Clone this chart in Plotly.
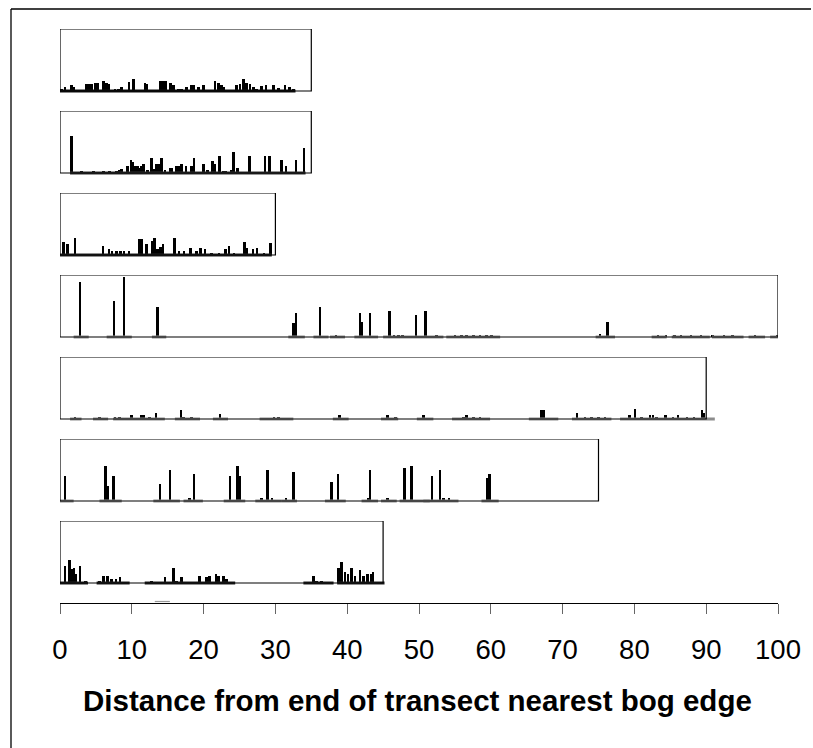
import plotly.graph_objects as go

# ---------------- data ----------------
transect_lengths = [35, 35, 30, 100, 90, 75, 45]

t1_pos = [0.23, 0.70, 1.63, 1.86, 3.62, 3.95, 4.41, 4.97, 5.25, 6.04, 6.50, 6.73, 7.66, 8.13, 8.59, 9.61, 10.21,
          11.84, 12.07, 13.93, 14.30, 14.62, 14.76, 15.41, 15.79, 16.48, 16.95, 17.64, 18.34, 18.66, 19.27, 19.96,
          21.59, 22.05, 22.52, 22.75, 24.61, 25.07, 25.53, 26.00, 26.46, 26.93, 27.39, 28.09, 28.69, 29.71, 30.41,
          31.34, 31.94, 32.50]
t1_val = [0.04, 0.065, 0.09, 0.065, 0.12, 0.12, 0.11, 0.13, 0.13, 0.16, 0.13, 0.12, 0.04, 0.04, 0.065, 0.14, 0.20,
          0.13, 0.12, 0.16, 0.16, 0.16, 0.16, 0.13, 0.09, 0.04, 0.04, 0.065, 0.09, 0.09, 0.065, 0.09,
          0.16, 0.13, 0.09, 0.065, 0.09, 0.12, 0.20, 0.13, 0.12, 0.065, 0.04, 0.075, 0.09, 0.09, 0.055,
          0.09, 0.065, 0.025]

t2_pos = [1.63, 3.02, 4.64, 6.04, 6.87, 7.89, 8.27, 8.59, 9.38, 9.89, 10.12, 10.45, 10.77, 11.05, 11.28, 11.61,
          12.21, 12.77, 13.09, 13.46, 13.79, 14.16, 14.62, 15.32, 15.55, 16.16, 16.48, 16.95, 17.55, 18.34, 18.66,
          19.96, 20.57, 21.26, 21.59, 22.19, 22.75, 23.12, 23.91, 24.14, 24.70, 26.37, 28.55, 29.15, 30.87, 31.48,
          32.87, 33.98]
t2_val = [0.59, 0.04, 0.04, 0.04, 0.04, 0.04, 0.05, 0.07, 0.11, 0.21, 0.17, 0.11, 0.11, 0.08, 0.11, 0.14,
          0.05, 0.24, 0.07, 0.14, 0.15, 0.24, 0.05, 0.08, 0.08, 0.11, 0.11, 0.14, 0.11, 0.11, 0.24,
          0.14, 0.05, 0.19, 0.14, 0.27, 0.04, 0.04, 0.05, 0.34, 0.08, 0.27, 0.27, 0.27, 0.21, 0.11,
          0.21, 0.40]

t3_pos = [0.46, 1.02, 2.09, 5.97, 6.81, 7.27, 7.87, 8.43, 8.89, 9.59, 10.98, 11.31, 12.05, 12.84, 13.16, 13.54,
          14.00, 14.37, 15.95, 16.55, 17.25, 18.18, 19.02, 19.57, 20.17, 21.10, 22.12, 23.05, 23.52, 24.21,
          25.70, 26.07, 26.86, 27.46, 28.39, 29.32]
t3_val = [0.21, 0.17, 0.28, 0.15, 0.10, 0.06, 0.06, 0.06, 0.06, 0.06, 0.26, 0.26, 0.18, 0.23, 0.27, 0.10,
          0.13, 0.17, 0.28, 0.06, 0.06, 0.12, 0.06, 0.12, 0.09, 0.04, 0.04, 0.09, 0.15, 0.04,
          0.21, 0.12, 0.10, 0.12, 0.04, 0.20]

t4_pos = [2.79, 7.52, 8.91, 13.56, 32.50, 32.87, 36.21, 38.44, 41.78, 42.06, 43.18, 45.87, 46.52, 47.13, 47.73,
          49.59, 50.90, 52.46, 55.01, 55.90, 56.60, 57.60, 58.50, 59.40, 60.10, 75.20, 76.28, 83.30, 84.40, 85.60,
          86.50, 87.90, 89.30, 90.90, 92.50, 93.70, 96.80, 99.90]
t4_val = [0.88, 0.58, 0.97, 0.49, 0.23, 0.39, 0.49, 0.03, 0.39, 0.25, 0.39, 0.42, 0.04, 0.04, 0.04,
          0.36, 0.42, 0.04, 0.04, 0.04, 0.04, 0.04, 0.04, 0.04, 0.04, 0.05, 0.25, 0.03, 0.03, 0.03,
          0.04, 0.04, 0.04, 0.04, 0.04, 0.03, 0.04, 0.03]

t5_pos = [2.09, 5.48, 7.66, 8.27, 9.98, 11.37, 11.70, 12.44, 13.37, 16.85, 17.18, 18.34, 22.28, 29.80, 30.40,
          38.90, 45.60, 46.70, 50.60, 56.20, 56.60, 57.60, 58.50, 67.10, 67.40, 72.00, 73.10, 74.00, 75.00, 75.90,
          79.30, 80.10, 81.00, 82.20, 82.60, 83.10, 84.30, 85.40, 86.10, 87.30, 88.30, 89.40, 89.60]
t5_val = [0.04, 0.04, 0.04, 0.04, 0.06, 0.06, 0.06, 0.04, 0.09, 0.14, 0.04, 0.04, 0.08, 0.04, 0.04,
          0.06, 0.06, 0.04, 0.06, 0.04, 0.06, 0.04, 0.04, 0.14, 0.14, 0.09, 0.04, 0.04, 0.04, 0.04,
          0.06, 0.16, 0.04, 0.06, 0.06, 0.04, 0.06, 0.04, 0.06, 0.04, 0.04, 0.14, 0.09]

t6_pos = [0.70, 6.36, 6.64, 7.43, 13.93, 15.32, 18.00, 18.66, 23.68, 24.70, 25.07, 28.09, 28.90, 29.50, 31.50,
          32.50, 37.80, 38.70, 43.00, 43.20, 45.60, 48.00, 48.98, 51.80, 52.90, 53.40, 54.20, 59.50, 59.80]
t6_val = [0.40, 0.57, 0.24, 0.40, 0.27, 0.50, 0.05, 0.44, 0.40, 0.56, 0.40, 0.05, 0.50, 0.05, 0.05,
          0.47, 0.30, 0.44, 0.05, 0.50, 0.05, 0.53, 0.56, 0.40, 0.50, 0.05, 0.05, 0.37, 0.44]

t7_pos = [0.70, 1.30, 1.63, 1.95, 2.23, 2.79, 3.58, 5.48, 6.04, 6.64, 7.20, 7.80, 8.36, 12.77, 14.62, 15.79,
          16.25, 16.95, 19.40, 20.40, 20.80, 21.70, 22.05, 22.75, 23.20, 35.30, 35.70, 36.40, 38.80, 39.20,
          39.70, 40.10, 40.60, 41.10, 41.80, 42.30, 42.85, 43.40, 43.60]
t7_val = [0.28, 0.37, 0.22, 0.25, 0.14, 0.28, 0.04, 0.04, 0.12, 0.12, 0.07, 0.07, 0.09, 0.04, 0.09, 0.25,
          0.04, 0.09, 0.12, 0.09, 0.12, 0.14, 0.12, 0.12, 0.07, 0.12, 0.04, 0.04, 0.25, 0.34,
          0.18, 0.14, 0.25, 0.12, 0.21, 0.12, 0.14, 0.14, 0.18]

# sampled stretches along each transect (baseline segments): start, end
t1_seg = [(0.0, 32.8)]
t2_seg = [(1.4, 34.2)]
t3_seg = [(0.0, 29.5)]
t4_seg = [(1.9, 4.0), (6.5, 10.0), (12.8, 14.8), (31.8, 34.1), (35.3, 37.4), (37.6, 39.7), (41.0, 44.3),
          (45.0, 53.4), (53.8, 61.3), (74.6, 77.3), (82.4, 84.5), (85.2, 90.5), (90.8, 95.2), (95.9, 98.2),
          (98.9, 100.3)]
t5_seg = [(1.4, 3.0), (4.6, 6.7), (7.4, 9.05), (9.05, 14.6), (16.0, 19.5), (21.3, 23.4), (27.8, 32.5),
          (38.0, 40.2), (44.7, 47.1), (49.7, 52.0), (54.6, 59.9), (65.3, 69.4), (71.3, 76.8), (78.0, 91.2)]
t6_seg = [(0.0, 1.9), (5.5, 8.6), (13.0, 16.7), (17.2, 19.9), (22.8, 25.8), (27.2, 30.9), (30.9, 33.0),
          (36.9, 39.8), (42.0, 44.3), (44.7, 46.9), (47.3, 51.5), (50.6, 55.5), (58.7, 61.1)]
t7_seg = [(0.0, 3.9), (5.1, 9.7), (11.8, 24.4), (33.9, 38.1), (38.6, 45.2)]

positions = [t1_pos, t2_pos, t3_pos, t4_pos, t5_pos, t6_pos, t7_pos]
values = [t1_val, t2_val, t3_val, t4_val, t5_val, t6_val, t7_val]
segments = [t1_seg, t2_seg, t3_seg, t4_seg, t5_seg, t6_seg, t7_seg]
segment_colors = ["#111111", "#333333", "#222222", "#8c8c8c", "#8c8c8c", "#8c8c8c", "#222222"]

stub_seg = (13.2, 15.3)  # faint mark just above the distance axis

x_ticks = [0, 10, 20, 30, 40, 50, 60, 70, 80, 90, 100]
x_title = "Distance from end of transect nearest bog edge"

# ---------------- layout geometry ----------------
W, H = 813, 748
ML, MR, MT, MB = 60, 35, 0, 145
PW = W - ML - MR
PH = H - MT - MB
panel_top_px = [29, 111, 193, 275, 357, 439, 521]
panel_h_px = 62
pad_px = 2.5
ymin = -pad_px / panel_h_px


def paper_y(px):
    return (PH - (px - MT)) / PH


def paper_x(px):
    return (px - ML) / PW


fig = go.Figure()
shapes = []
layout_axes = {}
for i in range(7):
    n = i + 1
    yname = "y" if n == 1 else f"y{n}"
    lname = "yaxis" if n == 1 else f"yaxis{n}"
    top = panel_top_px[i]
    bot = top + panel_h_px + pad_px
    layout_axes[lname] = dict(domain=[paper_y(bot), paper_y(top)], range=[ymin, 1.0],
                              visible=False, fixedrange=True)
    sx, sy = [], []
    for a, b in segments[i]:
        sx += [a, b, None]
        sy += [0, 0, None]
    fig.add_trace(go.Scatter(x=sx, y=sy, mode="lines", line=dict(color=segment_colors[i], width=3),
                             xaxis="x", yaxis=yname, hoverinfo="skip", showlegend=False))
    fig.add_trace(go.Bar(x=positions[i], y=values[i], width=0.36,
                         marker=dict(color="black", line=dict(width=0)),
                         xaxis="x", yaxis=yname, showlegend=False))
    shapes.append(dict(type="rect", xref="x", yref=yname, x0=0, x1=transect_lengths[i], y0=0, y1=1.0,
                       line=dict(color="black", width=1.2), fillcolor="rgba(0,0,0,0)", layer="above"))

# faint stub above axis
shapes.append(dict(type="line", xref="x", yref="paper", x0=stub_seg[0], x1=stub_seg[1],
                   y0=paper_y(601.5), y1=paper_y(601.5), line=dict(color="#999999", width=1.2)))

# outer frame: left and top edges
fx, fy = paper_x(11), paper_y(9)
shapes.append(dict(type="line", xref="paper", yref="paper", x0=fx, x1=paper_x(W - 2), y0=fy, y1=fy,
                   line=dict(color="black", width=1.3)))
shapes.append(dict(type="line", xref="paper", yref="paper", x0=fx, x1=fx, y0=fy, y1=paper_y(H),
                   line=dict(color="black", width=1.3)))

fig.update_layout(
    width=W, height=H,
    margin=dict(l=ML, r=MR, t=MT, b=MB),
    paper_bgcolor="white", plot_bgcolor="white",
    barmode="overlay", bargap=0,
    xaxis=dict(range=[0, 100], tickvals=x_ticks, ticktext=[str(t) for t in x_ticks],
               showgrid=False, zeroline=False, showline=True, linecolor="black", linewidth=1.3,
               ticks="outside", ticklen=10, tickcolor="#666", tickwidth=1.3,
               tickfont=dict(family="Liberation Sans, Arial, sans-serif", size=27.5, color="black"),
               ticklabelstandoff=12, anchor="free", position=0, fixedrange=True),
    shapes=shapes,
    annotations=[dict(text="<b>" + x_title + "</b>", xref="paper", yref="paper",
                      x=paper_x(417), y=paper_y(700), showarrow=False,
                      xanchor="center", yanchor="middle",
                      font=dict(family="Liberation Sans, Arial, sans-serif", size=29.5, color="black"))],
    **layout_axes,
)

fig.write_html("out.html", config={"displayModeBar": False})
